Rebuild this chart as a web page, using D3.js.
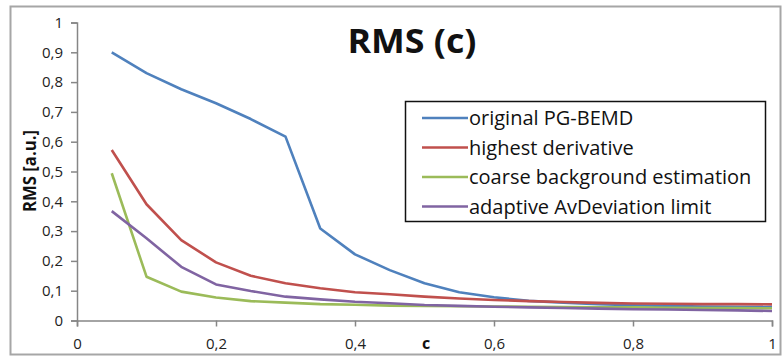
<!DOCTYPE html>
<html>
<head>
<meta charset="utf-8">
<script src="https://cdn.jsdelivr.net/npm/d3@7"></script>
<style>
body { margin:0; background:#fff; }
svg { display:block; }
</style>
</head>
<body>
<svg id="chart" width="784" height="356"></svg>
<script>
// RMS as a function of c, four methods

var C = [0.05,0.1,0.15,0.2,0.25,0.3,0.35,0.4,0.45,0.5,0.55,0.6,0.65,0.7,0.75,0.8,0.85,0.9,0.95,1];

var ORIGINAL = [0.9,0.83,0.776,0.729,0.676,0.617,0.309,0.222,0.169,0.125,0.095,0.078,0.066,0.06,0.055,0.051,0.049,0.047,0.046,0.045];
var HIGHEST = [0.572,0.39,0.27,0.195,0.15,0.125,0.108,0.095,0.088,0.08,0.074,0.069,0.065,0.062,0.059,0.057,0.056,0.055,0.055,0.054];
var COARSE = [0.494,0.147,0.097,0.077,0.065,0.06,0.055,0.053,0.05,0.049,0.048,0.047,0.046,0.045,0.044,0.044,0.043,0.042,0.042,0.041];
var ADAPTIVE = [0.367,0.276,0.18,0.121,0.099,0.08,0.071,0.063,0.058,0.052,0.049,0.046,0.044,0.042,0.04,0.038,0.037,0.035,0.034,0.032];

var NAMES = ["original PG-BEMD","highest derivative","coarse background estimation","adaptive AvDeviation limit"];
var COLORS = ["#4f81bd","#c0504d","#9bbb59","#8064a2"];

var XTICKS = [0,0.2,0.4,0.6,0.8,1];
var YTICKS = [0,0.1,0.2,0.3,0.4,0.5,0.6,0.7,0.8,0.9,1];

var FONT = "'Open Sans', sans-serif";
var comma = d => String(d).replace(".",",");

var svg = d3.select("#chart");

// outer chart frame
svg.append("rect")
	.attr("x",10.5).attr("y",6.5)
	.attr("width",770).attr("height",348)
	.style("fill","#fff")
	.style("stroke","#a6a6a6")
	.style("stroke-width",2);

var x = d3.scaleLinear().domain([0,1]).range([77,772]);
var y = d3.scaleLinear().domain([0,1]).range([320.5,22.5]);

// axes
var xa = svg.append("g")
	.attr("transform","translate(0,"+y(0)+")")
	.call(d3.axisBottom(x).tickValues(XTICKS).tickFormat(comma).tickSizeOuter(0).tickSize(6).tickPadding(12));
var ya = svg.append("g")
	.attr("transform","translate("+x(0)+",0)")
	.call(d3.axisLeft(y).tickValues(YTICKS).tickFormat(comma).tickSizeOuter(0).tickSize(6).tickPadding(8));

[xa,ya].forEach(function(a) {
	a.select(".domain").style("stroke","#868686").style("stroke-width",1.5);
	a.selectAll(".tick line").style("stroke","#868686").style("stroke-width",1.5);
	a.selectAll(".tick text")
		.style("font-family",FONT)
		.style("font-size","15px")
		.style("fill","#222");
});

// lines
var series = [ORIGINAL,HIGHEST,COARSE,ADAPTIVE];
var line = d3.line().x((d,i) => x(C[i])).y(d => y(d));

svg.selectAll("path.series").data(series).enter()
	.append("path")
	.attr("class","series")
	.attr("d",line)
	.style("fill","none")
	.style("stroke",(d,i) => COLORS[i])
	.style("stroke-width",2.6)
	.style("stroke-linejoin","round");

// titles
svg.append("text")
	.attr("x",412).attr("y",53)
	.attr("text-anchor","middle")
	.style("font-family",FONT)
	.style("font-weight","bold")
	.style("font-size","34px")
	.style("fill","#111")
	.attr("textLength",129)
	.attr("lengthAdjust","spacingAndGlyphs")
	.text("RMS (c)");

svg.append("text")
	.attr("x",426).attr("y",349)
	.attr("text-anchor","middle")
	.style("font-family",FONT)
	.style("font-weight","bold")
	.style("font-size","16px")
	.style("fill","#111")
	.text("c");

svg.append("text")
	.attr("transform","translate(36,171) rotate(-90)")
	.attr("text-anchor","middle")
	.style("font-family",FONT)
	.style("font-weight","bold")
	.style("font-size","18px")
	.style("fill","#111")
	.attr("textLength",82)
	.attr("lengthAdjust","spacingAndGlyphs")
	.text("RMS [a.u.]");

// legend
var lg = svg.append("g");
lg.append("rect")
	.attr("x",405.5).attr("y",101.5)
	.attr("width",360).attr("height",120)
	.style("fill","#fff")
	.style("stroke","#111")
	.style("stroke-width",1.5);

var rows = lg.selectAll("g.row").data(NAMES).enter()
	.append("g")
	.attr("class","row")
	.attr("transform",(d,i) => "translate(0,"+(118+i*29.5)+")");

rows.append("line")
	.attr("x1",422).attr("x2",468)
	.style("stroke",(d,i) => COLORS[i])
	.style("stroke-width",2.6);

rows.append("text")
	.attr("x",469).attr("y",7)
	.style("font-family",FONT)
	.style("font-size","20px")
	.style("fill","#111")
	.text(d => d);
</script>
</body>
</html>
